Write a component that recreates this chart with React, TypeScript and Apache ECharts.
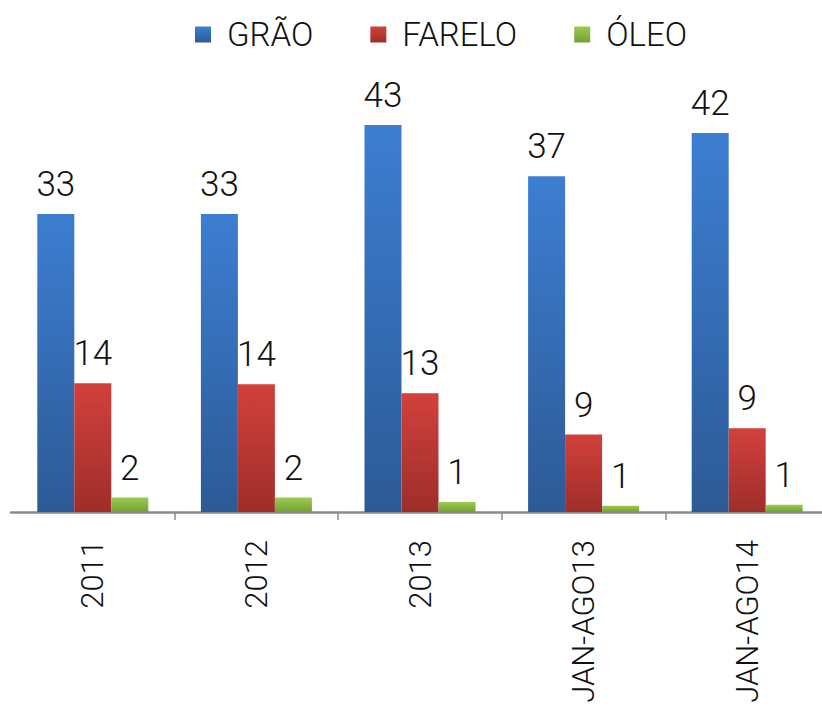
import React, { useEffect, useRef } from "react";
import * as echarts from "echarts";

const categories = ["2011", "2012", "2013", "JAN-AGO13", "JAN-AGO14"];
const seriesNames = ["GRÃO", "FARELO", "ÓLEO"];
const grao = [33.1, 33.1, 43.0, 37.3, 42.1];
const farelo = [14.3, 14.2, 13.2, 8.6, 9.3];
const oleo = [1.6, 1.6, 1.1, 0.7, 0.8];

const grad = (top: string, bottom: string) =>
  new echarts.graphic.LinearGradient(0, 0, 0, 1, [
    { offset: 0, color: top },
    { offset: 1, color: bottom },
  ]);

export default function App() {
  const ref = useRef<HTMLDivElement>(null);
  useEffect(() => {
    document.body.style.margin = "0";
    if (!ref.current) return;
    const chart = echarts.init(ref.current, null, { renderer: "svg" });
    const labelCfg = {
      show: true,
      position: "top",
      distance: 12,
      color: "#111",
      fontFamily: "Roboto",
      fontWeight: 300,
      fontSize: 35,
      formatter: (p: any) => Math.round(p.value).toString(),
    };
    const colors = [
      grad("#3D7ED2", "#2C5A96"),
      grad("#D2403C", "#9E2E2A"),
      grad("#9CCB4C", "#76A036"),
    ];
    const datas = [grao, farelo, oleo];
    chart.setOption({
      animation: false,
      legend: {
        top: 13,
        left: 190,
        itemWidth: 16,
        itemHeight: 16,
        itemGap: 57,
        icon: "rect",
        textStyle: {
          fontFamily: "Roboto",
          fontWeight: 300,
          fontSize: 33,
          color: "#111",
          padding: [0, 0, 0, 11],
        },
        data: seriesNames,
      },
      grid: { left: 11, top: 107, width: 818, height: 405, containLabel: false },
      xAxis: {
        type: "category",
        data: categories,
        axisLine: { show: true, lineStyle: { color: "#8C8C8C", width: 2.5 } },
        axisTick: {
          show: true,
          length: 8,
          interval: (index: number) => index !== 0,
          lineStyle: { color: "#8C8C8C", width: 1.5 },
        },
        axisLabel: {
          rotate: 90,
          margin: 28,
          fontFamily: "Roboto",
          fontWeight: 300,
          fontSize: 31,
          color: "#111",
        },
      },
      yAxis: {
        type: "value",
        min: 0,
        max: 45,
        show: false,
        splitLine: { show: false },
      },
      series: seriesNames.map((name, i) => ({
        name,
        type: "bar",
        data: datas[i],
        barWidth: 37,
        barGap: "0%",
        itemStyle: { color: colors[i] },
        label: labelCfg,
      })),
    });
    return () => chart.dispose();
  }, []);
  return (
    <div style={{ width: 822, height: 716, overflow: "hidden" }}>
      <div ref={ref} style={{ width: 830, height: 716 }} />
    </div>
  );
}
